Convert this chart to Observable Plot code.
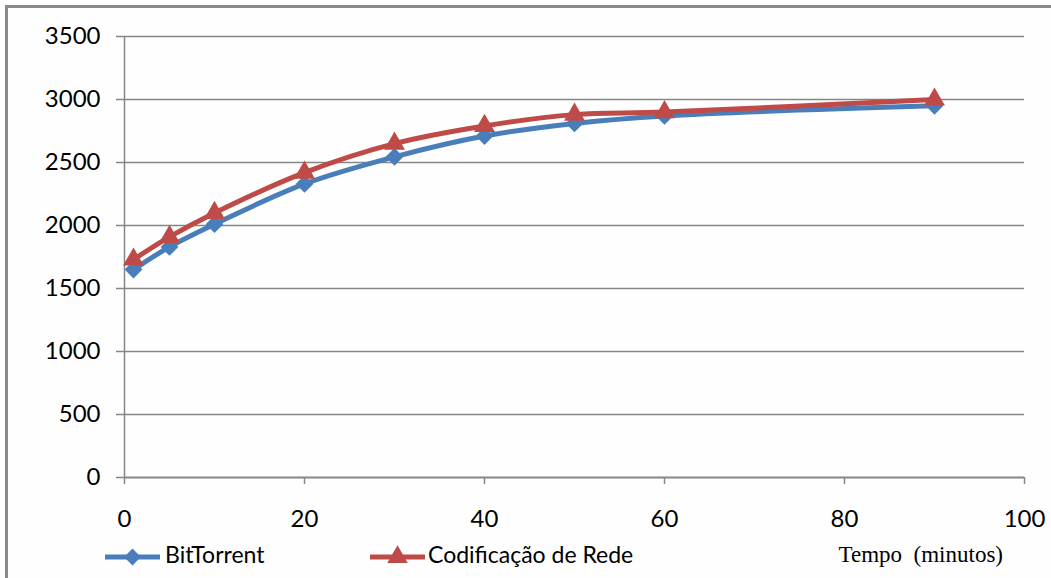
<!DOCTYPE html>
<html>
<head>
<meta charset="utf-8">
<script src="https://cdn.jsdelivr.net/npm/d3@7"></script>
<script src="https://cdn.jsdelivr.net/npm/@observablehq/plot@0.6"></script>
<style>
  body { margin: 0; background: #fff; }
  #chart { position: relative; width: 1051px; height: 578px; overflow: hidden; font-family: Lato, "Open Sans", sans-serif; background: #fefefe; }
  #border { position: absolute; left: 5px; top: 5px; right: -20px; bottom: -20px; border-left: 3px solid #8a8a8a; border-top: 3px solid #8a8a8a; pointer-events: none; }
  #legend { position: relative; height: 43px; }
  #legend .item { position: absolute; top: 0; height: 43px; }
  #legend .label { position: absolute; top: 5px; font-size: 23px; color: #000; white-space: nowrap; }
  #xtitle { position: absolute; right: 48px; top: 7px; font-family: "Liberation Serif", "DejaVu Serif", serif; font-size: 23px; color: #000; white-space: pre; }
</style>
</head>
<body>
<div id="chart">
  <div id="plot"></div>
  <div id="legend"></div>
  <div id="border"></div>
</div>
<script>
// Download time (minutes) and values for each distribution scheme
const tempo = [1, 5, 10, 20, 30, 40, 50, 60, 90];
const bitTorrent = [1650, 1830, 2010, 2330, 2545, 2710, 2810, 2870, 2950];
const codificacao = [1730, 1910, 2100, 2420, 2650, 2790, 2880, 2900, 3000];
const xTicks = [0, 20, 40, 60, 80, 100];
const yTicks = [0, 500, 1000, 1500, 2000, 2500, 3000, 3500];
const seriesNames = ["BitTorrent", "Codificação de Rede"];
const xTitle = "Tempo  (minutos)";

const blue = "#4a7ebb";
const red = "#be4b48";
const gray = "#868686";

const rowsBT = tempo.map((t, i) => ({t, v: bitTorrent[i]}));
const rowsCR = tempo.map((t, i) => ({t, v: codificacao[i]}));

const chart = Plot.plot({
  width: 1051,
  height: 535,
  marginLeft: 124,
  marginRight: 27,
  marginTop: 36,
  marginBottom: 58,
  style: {fontFamily: "Lato, 'Open Sans', sans-serif", fontSize: "24px", color: "#000", background: "transparent"},
  x: {domain: [0, 100]},
  y: {domain: [0, 3500]},
  marks: [
    Plot.gridY(yTicks.filter(d => d > 0), {stroke: gray, strokeOpacity: 1, strokeWidth: 1.5}),
    Plot.axisY(yTicks, {tickSize: 8, tickPadding: 16, stroke: gray, strokeWidth: 1.5, label: null, fontSize: 24, tickFormat: d => String(d)}),
    Plot.axisX(xTicks, {tickSize: 7, tickPadding: 25, stroke: gray, strokeWidth: 1.5, label: null, fontSize: 24, tickFormat: d => String(d)}),
    Plot.ruleX([0], {stroke: gray, strokeWidth: 1.5}),
    Plot.ruleY([0], {stroke: gray, strokeWidth: 2}),
    Plot.line(rowsBT, {x: "t", y: "v", stroke: blue, strokeWidth: 5, curve: "catmull-rom"}),
    Plot.dot(rowsBT, {x: "t", y: "v", symbol: "diamond2", r: 8, fill: blue, stroke: "none"}),
    Plot.line(rowsCR, {x: "t", y: "v", stroke: red, strokeWidth: 5, curve: "catmull-rom"}),
    Plot.dot(rowsCR, {x: "t", y: "v", symbol: "triangle2", r: 10, fill: red, stroke: "none"})
  ]
});
document.getElementById("plot").appendChild(chart);

// Legend row below the plot
const legend = d3.select("#legend");
const items = [
  {name: seriesNames[0], color: blue, symbol: d3.symbolDiamond2, size: 180, x0: 105, x1: 160, tx: 165},
  {name: seriesNames[1], color: red, symbol: d3.symbolTriangle2, size: 300, x0: 370, x1: 425, tx: 428}
];
const cy = 22;
for (const it of items) {
  const svg = legend.append("svg")
    .attr("class", "item")
    .style("left", it.x0 + "px")
    .attr("width", it.x1 - it.x0)
    .attr("height", 43);
  svg.append("line")
    .attr("x1", 0).attr("x2", it.x1 - it.x0)
    .attr("y1", cy).attr("y2", cy)
    .attr("stroke", it.color).attr("stroke-width", 5);
  svg.append("path")
    .attr("transform", `translate(${(it.x1 - it.x0) / 2},${cy})`)
    .attr("d", d3.symbol(it.symbol, it.size)())
    .attr("fill", it.color);
  legend.append("div")
    .attr("class", "label")
    .style("left", it.tx + "px")
    .text(it.name);
}
legend.append("div").attr("id", "xtitle").text(xTitle);
</script>
</body>
</html>
